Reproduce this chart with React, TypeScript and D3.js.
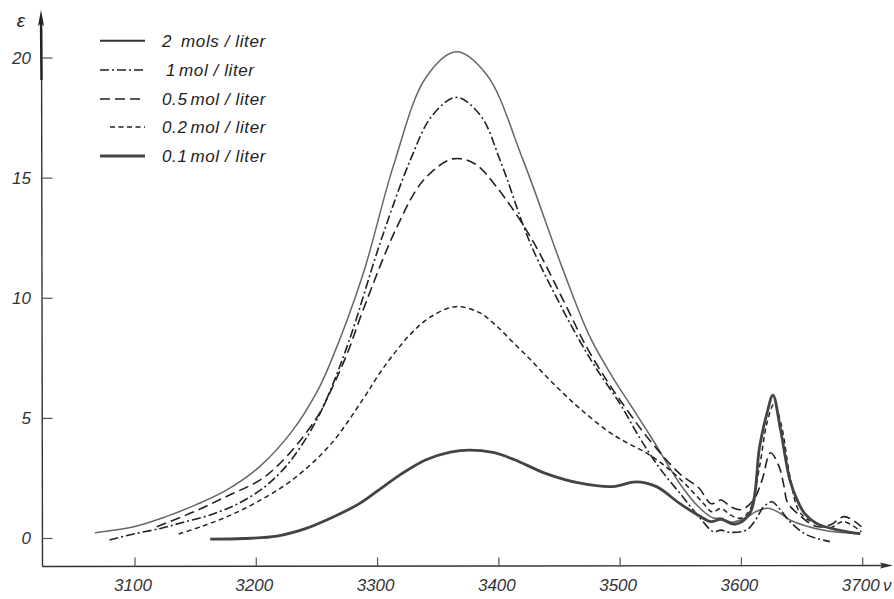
import React from "react";
import * as d3 from "d3";

// ---- Data ----
const xTicks = [3100, 3200, 3300, 3400, 3500, 3600, 3700];
const yTicks = [0, 5, 10, 15, 20];

const nu2 = [3067,3100,3125,3150,3175,3203,3230,3250,3261,3288,3313,3340,3365,3390,3420,3453,3475,3494,3508,3527,3549,3565,3577,3583,3592,3605,3612,3622,3632,3640,3667,3698];
const eps2 = [0.24,0.5,0.9,1.4,2.0,3.0,4.5,6.1,7.3,11.0,15.5,19.2,20.26,19.3,15.75,11.17,8.4,6.7,5.6,4.1,2.3,1.3,0.85,0.85,0.68,0.9,1.12,1.26,1.05,0.77,0.35,0.19];

const nu1 = [3079,3100,3121,3140,3162,3183,3203,3218,3230,3245,3258,3277,3302,3327,3345,3365,3385,3401,3426,3453,3467,3480,3500,3516,3533,3549,3565,3577,3583,3590,3604,3612,3618,3625,3632,3640,3654,3673];
const eps1 = [-0.06,0.2,0.42,0.68,0.98,1.4,2.0,2.65,3.35,4.5,5.8,8.3,12.28,15.75,17.6,18.36,17.6,15.75,12.28,9.5,8.2,7.1,5.6,4.2,2.9,1.9,0.9,0.28,0.35,0.26,0.35,0.8,1.3,1.53,1.2,0.7,0.15,-0.13];

const nu05 = [3118,3148,3175,3203,3217,3235,3252,3261,3275,3288,3316,3338,3362,3380,3398,3426,3453,3472,3490,3505,3522,3549,3565,3575,3583,3592,3600,3610,3617,3624,3631,3635,3638,3646,3662,3673,3685,3699];
const eps05 = [0.49,1.1,1.74,2.43,3.0,4.0,5.2,6.1,7.7,9.5,12.97,14.92,15.8,15.6,14.64,12.56,9.93,8.0,6.5,5.4,4.24,2.7,2.1,1.45,1.6,1.3,1.2,1.6,2.43,3.57,3.0,2.2,1.5,1.05,0.5,0.56,0.91,0.49];

const nu02 = [3136,3155,3176,3200,3230,3261,3288,3302,3316,3329,3343,3364,3384,3398,3412,3426,3439,3453,3467,3489,3505,3522,3540,3555,3568,3576,3583,3592,3600,3607,3615,3621,3627,3633,3640,3648,3660,3673,3684,3699];
const eps02 = [0.19,0.5,0.91,1.5,2.45,3.9,5.8,6.9,7.85,8.6,9.2,9.65,9.4,8.85,8.15,7.45,6.75,6.05,5.4,4.5,4.0,3.55,2.9,2.2,1.5,1.1,1.25,0.95,0.85,1.2,3.0,4.8,5.6,4.7,2.6,1.1,0.65,0.45,0.7,0.28];

const nu01 = [3162,3190,3217,3240,3258,3285,3300,3320,3340,3360,3376,3395,3412,3439,3467,3494,3513,3530,3549,3565,3575,3583,3595,3607,3615,3621,3626,3632,3640,3646,3652,3662,3680,3698];
const eps01 = [-0.03,0.0,0.1,0.4,0.77,1.45,1.98,2.7,3.28,3.6,3.68,3.58,3.3,2.7,2.3,2.16,2.36,2.16,1.46,0.95,0.7,0.8,0.6,1.05,3.82,5.2,5.97,4.6,2.43,1.6,1.05,0.63,0.35,0.2];

const seriesLabels = ["2 mols / liter", "1 mol / liter", "0.5 mol / liter", "0.2 mol / liter", "0.1 mol / liter"];

// ---- Styles ----
const styles = [
  { stroke: "#666", width: 1.5, dash: "", legendStart: 100, textX: 162 },
  { stroke: "#222", width: 1.6, dash: "9 3 2 3", legendStart: 100, textX: 166 },
  { stroke: "#222", width: 1.6, dash: "10 5", legendStart: 100, textX: 162 },
  { stroke: "#222", width: 1.5, dash: "5 3.5", legendStart: 110, textX: 162 },
  { stroke: "#444", width: 2.8, dash: "", legendStart: 100, textX: 162 },
];

const W = 894, H = 599;
const font = "'Liberation Sans', Arial, sans-serif";

export default function App() {
  const x = d3.scaleLinear().domain([3000, 3700]).range([13.7, 862.7]);
  const y = d3.scaleLinear().domain([0, 20]).range([538.5, 58]);

  const line = d3
    .line<[number, number]>()
    .x((d) => x(d[0]))
    .y((d) => y(d[1]))
    .curve(d3.curveCatmullRom.alpha(0.5));

  const series: [number, number][][] = [
    nu2.map((n, i) => [n, eps2[i]]),
    nu1.map((n, i) => [n, eps1[i]]),
    nu05.map((n, i) => [n, eps05[i]]),
    nu02.map((n, i) => [n, eps02[i]]),
    nu01.map((n, i) => [n, eps01[i]]),
  ];

  const axisY = 566.5;
  const axisX = 42.5;
  const legendRowY = [40.7, 70, 99, 127, 156];

  return (
    <svg
      width={W}
      height={H}
      style={{ position: "absolute", left: 0, top: 0, background: "#fff" }}
      fontFamily={font}
    >
      <rect x={0} y={0} width={W} height={H} fill="#fff" />
      {/* axes */}
      <line x1={axisX} y1={axisY} x2={888} y2={axisY - 1} stroke="#333" strokeWidth={1.4} />
      <path d={`M893,${axisY - 1} L880,${axisY - 4} L882,${axisY - 1} L880,${axisY + 2} Z`} fill="#333" />
      <line x1={axisX} y1={axisY} x2={axisX - 1} y2={20} stroke="#333" strokeWidth={1.4} />
      <line x1={axisX - 1} y1={80} x2={axisX - 1.5} y2={20} stroke="#222" strokeWidth={2.4} />
      <path d={`M${axisX - 1.5},10 L${axisX - 4.5},26 L${axisX - 1.5},23 L${axisX + 1.5},26 Z`} fill="#222" />

      {/* y ticks */}
      {yTicks.map((t) => (
        <g key={"y" + t}>
          <line x1={axisX} x2={axisX + 10} y1={y(t)} y2={y(t)} stroke="#555" strokeWidth={1.2} />
          <text
            x={31}
            y={y(t)}
            textAnchor="end"
            dominantBaseline="central"
            fontSize={17}
            fontStyle="italic"
            fill="#333"
          >
            {t}
          </text>
        </g>
      ))}
      <text x={21} y={20} fontSize={19} fontStyle="italic" fill="#222" textAnchor="middle" dominantBaseline="central">
        ε
      </text>

      {/* x ticks */}
      {xTicks.map((t) => (
        <g key={"x" + t}>
          <line x1={x(t)} x2={x(t)} y1={axisY} y2={axisY - 9} stroke="#555" strokeWidth={1.2} />
          <text x={x(t) - 2} y={591} textAnchor="middle" fontSize={17} fontStyle="italic" fill="#333">
            {t}
          </text>
        </g>
      ))}
      <text x={883} y={591} fontSize={17} fontStyle="italic" fill="#333">
        ν
      </text>

      {/* curves */}
      {series.map((s, i) => (
        <path
          key={"s" + i}
          d={line(s) || ""}
          fill="none"
          stroke={styles[i].stroke}
          strokeWidth={styles[i].width}
          strokeDasharray={styles[i].dash || undefined}
          strokeLinejoin="round"
        />
      ))}

      {/* legend */}
      {seriesLabels.map((lab, i) => {
        const parts = lab.split(" ");
        return (
          <g key={"l" + i}>
            <line
              x1={styles[i].legendStart}
              x2={145}
              y1={legendRowY[i]}
              y2={legendRowY[i]}
              stroke={i === 0 ? "#333" : styles[i].stroke}
              strokeWidth={i === 0 ? 2 : styles[i].width}
              strokeDasharray={styles[i].dash || undefined}
            />
            <text
              x={styles[i].textX}
              y={legendRowY[i]}
              dominantBaseline="central"
              fontSize={17}
              fontStyle="italic"
              letterSpacing={0.6}
              fill="#222"
            >
              <tspan>{parts[0]}</tspan>
              <tspan dx={i === 0 ? 9 : 3}>{parts.slice(1).join(" ")}</tspan>
            </text>
          </g>
        );
      })}
    </svg>
  );
}
